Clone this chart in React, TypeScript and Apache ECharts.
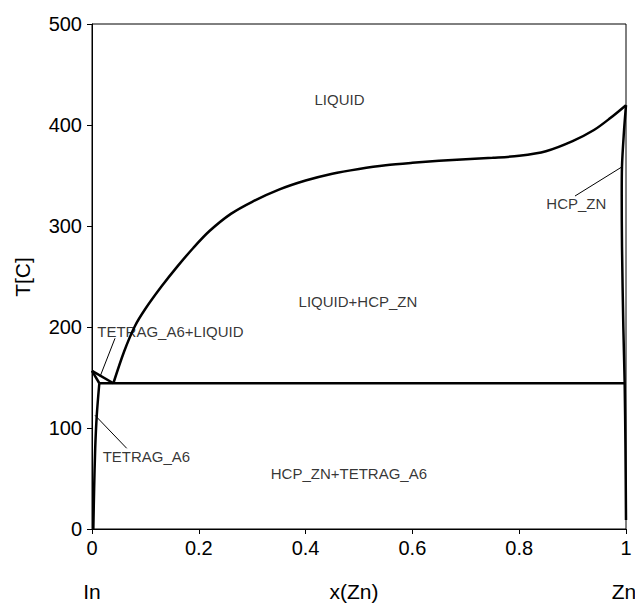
import React, { useEffect, useRef } from "react";
import * as echarts from "echarts";

// Phase boundaries of the In–Zn system (x = mole fraction Zn, T in °C)
const liquidusZn: [number, number][] = [
  [0.04, 144.3], [0.06, 175.5], [0.08, 200.5], [0.1, 218], [0.13, 240],
  [0.16, 260], [0.19, 278.5], [0.22, 295], [0.26, 312], [0.3, 324],
  [0.35, 336], [0.4, 345], [0.45, 351.8], [0.5, 356.5], [0.55, 360.2],
  [0.6, 362.6], [0.65, 364.5], [0.7, 366], [0.75, 367.5], [0.8, 369.5],
  [0.85, 374], [0.9, 384], [0.94, 395], [0.97, 406.6], [1.0, 419.6],
];
const liquidusIn: [number, number][] = [[0, 156.6], [0.04, 144.3]];
const solidusIn: [number, number][] = [[0, 156.6], [0.0137, 144.3]];
const solvusIn: [number, number][] = [
  [0.0137, 144.3], [0.009, 113], [0.006, 80], [0.004, 40], [0.0025, 0],
];
const eutectic: [number, number][] = [[0.0137, 144.3], [0.9975, 144.3]];
const solidusZn: [number, number][] = [
  [1.0, 419.6], [0.996, 392], [0.9925, 359], [0.992, 330], [0.9925, 280],
  [0.995, 200], [0.9975, 144.3], [0.999, 80], [1.0, 9],
];

// Leader lines for region labels
const leaderTetragLiquid: [number, number][] = [[0.0431, 188.8], [0.015, 150.8]];
const leaderTetrag: [number, number][] = [[0.0056, 112.6], [0.065, 79.9]];
const leaderHcp: [number, number][] = [[0.9045, 329.7], [0.992, 358.4]];

// Region labels: [x, T, text, anchor]
const regionLabels: [number, number, string, string][] = [
  [0.4635, 425.7, "LIQUID", "center"],
  [0.498, 224.8, "LIQUID+HCP_ZN", "center"],
  [0.0099, 195.3, "TETRAG_A6+LIQUID", "left"],
  [0.02, 71.6, "TETRAG_A6", "left"],
  [0.481, 55.4, "HCP_ZN+TETRAG_A6", "center"],
  [0.907, 322.5, "HCP_ZN", "center"],
];

const xTicks = [0, 0.2, 0.4, 0.6, 0.8, 1];
const yTicks = [0, 100, 200, 300, 400, 500];

const FONT = "Liberation Sans, Arial, sans-serif";

export default function App() {
  const ref = useRef<HTMLDivElement>(null);
  useEffect(() => {
    if (!ref.current) return;
    const chart = echarts.init(ref.current, undefined, { renderer: "svg" });
    const boundary = (data: [number, number][], smooth: boolean | number = false) => ({
      type: "line",
      data,
      showSymbol: false,
      symbol: "none",
      clip: false,
      smooth,
      lineStyle: { color: "#000", width: 2.5 },
      z: 3,
    });
    const leader = (data: [number, number][]) => ({
      type: "line",
      data,
      showSymbol: false,
      symbol: "none",
      clip: false,
      lineStyle: { color: "#000", width: 1 },
      z: 3,
    });
    chart.setOption({
      animation: false,
      backgroundColor: "#fff",
      grid: {
        left: 92,
        right: 9,
        top: 24,
        bottom: 75,
        show: true,
        borderColor: "#000",
        borderWidth: 1,
      },
      xAxis: {
        type: "value",
        min: xTicks[0],
        max: xTicks[xTicks.length - 1],
        interval: 0.2,
        axisLine: { lineStyle: { color: "#000", width: 1 } },
        axisTick: { show: true, inside: false, length: 5, lineStyle: { color: "#000" } },
        splitLine: { show: false },
        axisLabel: {
          color: "#000",
          fontSize: 20,
          fontFamily: FONT,
          margin: 9,
          formatter: (v: number) => String(Math.round(v * 10) / 10),
        },
      },
      yAxis: {
        type: "value",
        min: yTicks[0],
        max: yTicks[yTicks.length - 1],
        interval: 100,
        axisLine: { show: true, lineStyle: { color: "#000", width: 1 } },
        axisTick: { show: true, inside: false, length: 5, lineStyle: { color: "#000" } },
        splitLine: { show: false },
        axisLabel: { color: "#000", fontSize: 20, fontFamily: FONT, margin: 10 },
      },
      series: [
        boundary(liquidusZn, 0.3),
        boundary(liquidusIn),
        boundary(solidusIn),
        boundary(solvusIn, 0.3),
        boundary(eutectic),
        boundary(solidusZn, 0.3),
        leader(leaderTetragLiquid),
        leader(leaderTetrag),
        leader(leaderHcp),
        {
          type: "scatter",
          symbolSize: 0,
          clip: false,
          data: regionLabels.map(([x, t, text, anchor]) => ({
            value: [x, t],
            name: text,
            label: {
              show: true,
              formatter: text,
              position: anchor === "left" ? "right" : "inside",
              distance: 0,
              color: "#000",
              fontSize: 15,
              fontFamily: FONT,
            },
          })),
          z: 4,
        },
      ],
      graphic: [
        {
          type: "text",
          x: 92,
          y: 591,
          style: { text: "In", fontSize: 21, fontFamily: FONT, fill: "#000", align: "center", verticalAlign: "middle" },
        },
        {
          type: "text",
          x: 354,
          y: 591,
          style: { text: "x(Zn)", fontSize: 21, fontFamily: FONT, fill: "#000", align: "center", verticalAlign: "middle" },
        },
        {
          type: "text",
          x: 624,
          y: 591,
          style: { text: "Zn", fontSize: 21, fontFamily: FONT, fill: "#000", align: "center", verticalAlign: "middle" },
        },
        {
          type: "text",
          x: 22,
          y: 277,
          rotation: Math.PI / 2,
          style: { text: "T[C]", fontSize: 21, fontFamily: FONT, fill: "#000", align: "center", verticalAlign: "middle" },
        },
      ],
    });
    return () => chart.dispose();
  }, []);
  return <div ref={ref} style={{ width: 635, height: 604, position: "absolute", left: 0, top: 0 }} />;
}
